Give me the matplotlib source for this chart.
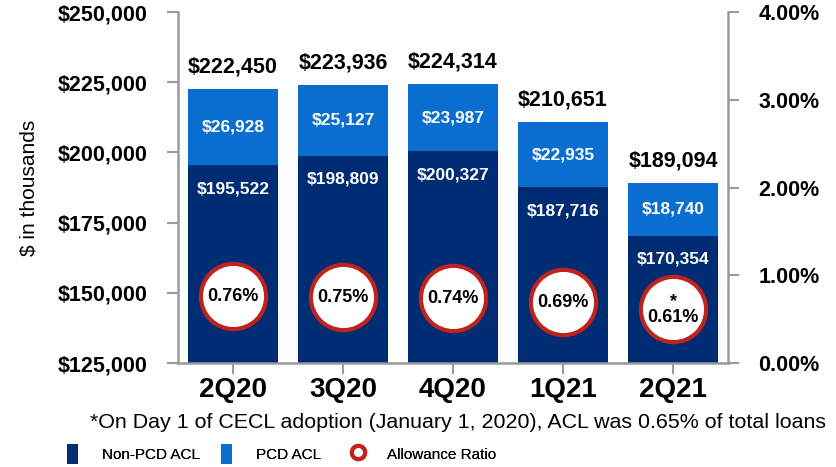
import matplotlib
matplotlib.use("Agg")
import matplotlib.pyplot as plt
from matplotlib.ticker import FuncFormatter
from matplotlib.lines import Line2D
from matplotlib.patches import Patch

plt.rcParams['font.family'] = ['Liberation Sans', 'DejaVu Sans']

quarters = ["2Q20", "3Q20", "4Q20", "1Q21", "2Q21"]
non_pcd = [195522, 198809, 200327, 187716, 170354]
pcd = [26928, 25127, 23987, 22935, 18740]
totals = [222450, 223936, 224314, 210651, 189094]
ratio = [0.76, 0.75, 0.74, 0.69, 0.61]
ratio_labels = ["0.76%", "0.75%", "0.74%", "0.69%", "*\n0.61%"]
legend_labels = ["Non-PCD ACL", "PCD ACL", "Allowance Ratio"]

navy = "#002C73"
blue = "#0A6ED1"
red = "#C0231E"
gray = "#9A9A9A"

fig = plt.figure(figsize=(8.36, 4.67), dpi=100)
ax = fig.add_axes([178/836, 1 - 363/467, 550/836, 351/467])
x = list(range(len(quarters)))
w = 0.82
ax.bar(x, non_pcd, width=w, color=navy, zorder=2)
ax.bar(x, pcd, bottom=non_pcd, width=w, color=blue, zorder=2)
ax.set_ylim(125000, 250000)
ax.set_xlim(-0.5, len(quarters) - 0.5)
ax.set_yticks([125000, 150000, 175000, 200000, 225000, 250000])
ax.yaxis.set_major_formatter(FuncFormatter(lambda v, p: "${:,.0f}".format(v)))
ax.set_xticks(x)
ax.set_xticklabels(quarters, fontsize=20, fontweight="bold")
for lab in ax.get_yticklabels():
    lab.set_fontsize(15.5)
    lab.set_fontweight("bold")
ax.tick_params(axis="y", length=8, width=1.5, color=gray, pad=14)
ax.tick_params(axis="x", length=8, width=1.5, color=gray, pad=2)
for s in ["top", "right"]:
    ax.spines[s].set_visible(False)
for s in ["left", "bottom"]:
    ax.spines[s].set_color(gray)
    ax.spines[s].set_linewidth(1.8)
ax.set_ylabel("$ in thousands", fontsize=15, labelpad=14)

for i in x:
    ax.annotate("${:,}".format(totals[i]), (i, totals[i]), xytext=(0, 16),
                textcoords="offset points", ha="center", va="center",
                fontsize=15.5, fontweight="bold", color="black")
    ax.text(i, non_pcd[i] + pcd[i] / 2, "${:,}".format(pcd[i]), ha="center", va="center",
            fontsize=12.5, fontweight="bold", color="white", zorder=3)
    ax.annotate("${:,}".format(non_pcd[i]), (i, non_pcd[i]), xytext=(0, -17),
                textcoords="offset points", ha="center", va="center",
                fontsize=12.5, fontweight="bold", color="white", zorder=3)

ax2 = ax.twinx()
ax2.set_ylim(0, 4)
ax2.set_yticks([0, 1, 2, 3, 4])
ax2.yaxis.set_major_formatter(FuncFormatter(lambda v, p: "{:.2f}%".format(v)))
for lab in ax2.get_yticklabels():
    lab.set_fontsize(15.5)
    lab.set_fontweight("bold")
ax2.tick_params(axis="y", length=8, width=1.5, color=gray, pad=14)
for s in ["top", "left", "bottom"]:
    ax2.spines[s].set_visible(False)
ax2.spines["right"].set_color(gray)
ax2.spines["right"].set_linewidth(1.8)
ax2.scatter(x, ratio, s=47**2, facecolor="white", edgecolor=red, linewidths=3, zorder=4)
for i in x:
    ax2.text(i, ratio[i], ratio_labels[i], ha="center", va="center",
             fontsize=13, fontweight="bold", color="black", zorder=5, linespacing=0.9)

fig.text(90/836, 1 - 423/467, "*On Day 1 of CECL adoption (January 1, 2020), ACL was 0.65% of total loans",
         fontsize=15.4, ha="left", va="center")

handles = [Patch(facecolor=navy, edgecolor="none"),
           Patch(facecolor=blue, edgecolor="none"),
           Line2D([], [], marker="o", linestyle="none", markersize=9.5,
                  markerfacecolor="white", markeredgecolor=red, markeredgewidth=3)]
anchors = [67, 221, 352]
for h, lab, ax_x in zip(handles, legend_labels, anchors):
    lg = fig.legend([h], [lab], loc="center left", bbox_to_anchor=(ax_x/836, 1 - 454/467),
                    frameon=False, fontsize=11, handlelength=0.72, handleheight=1.6,
                    borderpad=0, borderaxespad=0, handletextpad=1.6)
    fig.add_artist(lg)

fig.savefig("out.png", dpi=100)
